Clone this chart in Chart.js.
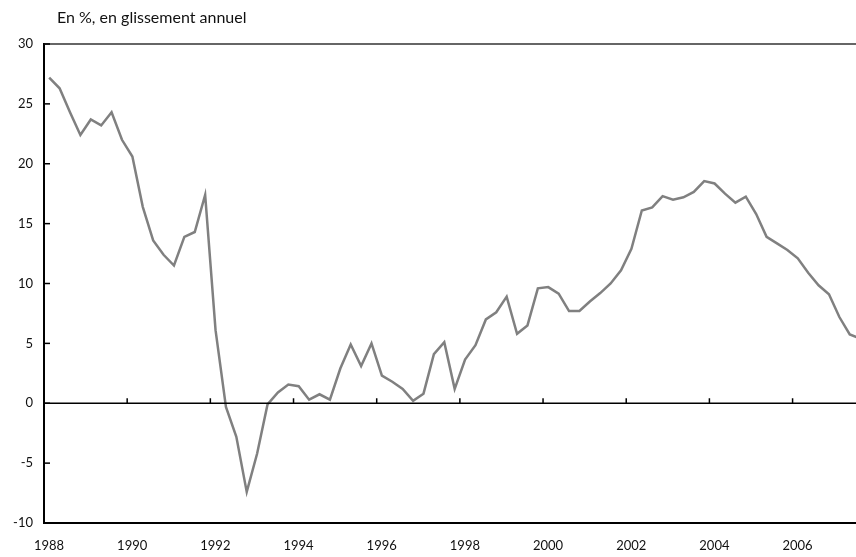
<!DOCTYPE html>
<html>
<head>
<meta charset="utf-8">
<script src="https://cdn.jsdelivr.net/npm/chart.js@4/dist/chart.umd.min.js"></script>
<style>
  html, body { margin: 0; padding: 0; background: #fff; }
  #wrap { width: 856px; height: 557px; position: relative; }
</style>
</head>
<body>
<div id="wrap"><canvas id="chart"></canvas></div>
<script>
// quarterly series, starting 1988 Q1
const startYear = 1988;
const values = [
  27.2, 26.3, 24.3, 22.4, 23.7, 23.2, 24.3, 22.0,
  20.6, 16.4, 13.6, 12.4, 11.5, 13.9, 14.3, 17.4,
  6.1, -0.3, -2.8, -7.4, -4.2, -0.1, 0.9, 1.56,
  1.42, 0.3, 0.75, 0.3, 2.9, 4.9, 3.1, 5.0,
  2.3, 1.8, 1.2, 0.2, 0.8, 4.1, 5.1, 1.2,
  3.65, 4.85, 7.0, 7.6, 8.9, 5.8, 6.5, 9.6,
  9.7, 9.15, 7.7, 7.7, 8.5, 9.2, 10.0, 11.1,
  12.9, 16.1, 16.35, 17.3, 17.0, 17.2, 17.65, 18.55,
  18.35, 17.5, 16.75, 17.25, 15.8, 13.9, 13.35, 12.8,
  12.1, 10.9, 9.85, 9.1, 7.2, 5.75, 5.4
];
const yearTicks = [1988, 1990, 1992, 1994, 1996, 1998, 2000, 2002, 2004, 2006];
const yTicks = [-10, -5, 0, 5, 10, 15, 20, 25, 30];
const title = 'En %, en glissement annuel';

// each quarter sits in the middle of its quarter
const points = values.map((v, i) => ({ x: startYear + i * 0.25 + 0.125, y: v }));

const fontFamily = 'Lato, "Open Sans", sans-serif';

const decor = {
  id: 'decor',
  afterDraw(chart) {
    const ctx = chart.ctx;
    const area = chart.chartArea;
    const xs = chart.scales.x, ys = chart.scales.y;
    ctx.save();
    // top frame line
    ctx.strokeStyle = '#333';
    ctx.lineWidth = 1.5;
    ctx.beginPath();
    ctx.moveTo(area.left, area.top);
    ctx.lineTo(area.right, area.top);
    ctx.stroke();
    // zero line
    const y0 = ys.getPixelForValue(0);
    ctx.strokeStyle = '#000';
    ctx.lineWidth = 1.5;
    ctx.beginPath();
    ctx.moveTo(area.left, y0);
    ctx.lineTo(area.right, y0);
    ctx.stroke();
    // inward ticks on y axis
    yTicks.forEach(v => {
      const y = ys.getPixelForValue(v);
      ctx.beginPath();
      ctx.moveTo(area.left, y);
      ctx.lineTo(area.left + 6, y);
      ctx.stroke();
    });
    // year ticks on the zero line
    yearTicks.forEach(v => {
      const x = xs.getPixelForValue(v);
      ctx.beginPath();
      ctx.moveTo(x, y0);
      ctx.lineTo(x, y0 - 5);
      ctx.stroke();
    });
    // title
    ctx.fillStyle = '#111';
    ctx.font = '16px ' + fontFamily;
    ctx.textBaseline = 'alphabetic';
    ctx.textAlign = 'left';
    ctx.fillText(title, 57, 23);
    ctx.restore();
  }
};

new Chart(document.getElementById('chart'), {
  type: 'line',
  data: {
    datasets: [{
      data: points,
      borderColor: '#808080',
      borderWidth: 2.5,
      pointRadius: 0,
      tension: 0,
      fill: false
    }]
  },
  options: {
    responsive: true,
    maintainAspectRatio: false,
    animation: false,
    layout: { padding: { top: 44, right: 0, left: 0, bottom: 0 } },
    plugins: { legend: { display: false }, tooltip: { enabled: false } },
    scales: {
      x: {
        type: 'linear',
        min: 1988,
        max: 2007.525,
        afterBuildTicks: s => { s.ticks = yearTicks.map(v => ({ value: v })); },
        afterFit: s => { s.height = 34; },
        grid: { display: false, drawTicks: false },
        border: { display: true, color: '#000', width: 2 },
        ticks: {
          callback: v => String(v),
          color: '#111',
          font: { family: fontFamily, size: 13 },
          padding: 15,
          labelOffset: 5,
          maxRotation: 0,
          autoSkip: false
        }
      },
      y: {
        min: -10,
        max: 30,
        afterBuildTicks: s => { s.ticks = yTicks.map(v => ({ value: v })); },
        afterFit: s => { s.width = 44; },
        grid: { display: false, drawTicks: false },
        border: { display: true, color: '#000', width: 2 },
        ticks: {
          color: '#111',
          font: { family: fontFamily, size: 13 },
          padding: 11
        }
      }
    }
  },
  plugins: [decor]
});
</script>
</body>
</html>
